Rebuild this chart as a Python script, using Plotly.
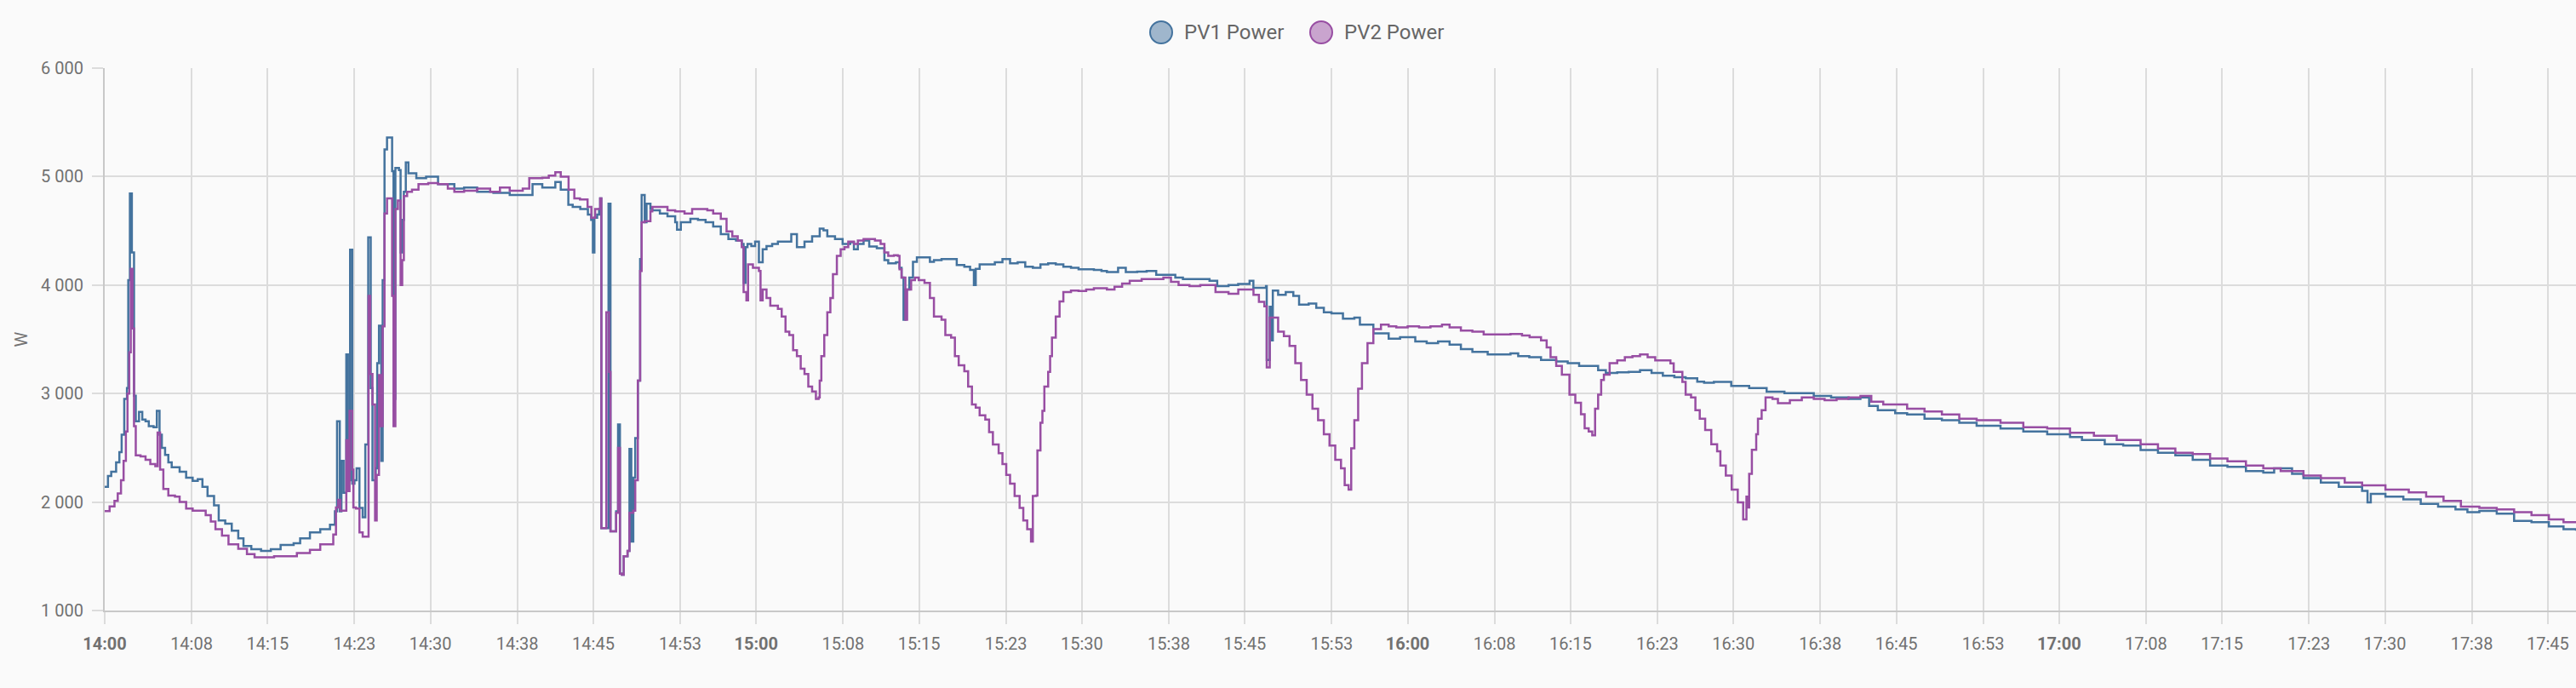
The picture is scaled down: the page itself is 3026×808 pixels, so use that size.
import plotly.graph_objects as go
import pandas as pd

# ---------------- data (minutes after 14:00, watts) ----------------
pv1_samples = [
    (0.0, 2140), (0.3, 2240), (0.6, 2280), (1.05, 2365), (1.35, 2460), (1.56, 2620), (1.8, 2950),
    (2.05, 3050), (2.17, 4046), (2.32, 4845), (2.5, 4300), (2.7, 2980), (2.86, 2745), (3.16, 2830),
    (3.46, 2760), (3.76, 2745), (4.06, 2700), (4.5, 2690), (4.8, 2840), (5.05, 2620), (5.26, 2500),
    (5.56, 2435), (5.86, 2365), (6.17, 2320), (6.9, 2280), (7.5, 2225), (8.1, 2195), (8.57, 2210),
    (9.0, 2140), (9.47, 2055), (10.07, 1970), (10.5, 1830), (11.1, 1800), (11.7, 1735), (12.3, 1665),
    (12.78, 1595), (13.5, 1565), (14.4, 1550), (15.3, 1565), (16.2, 1605), (17.4, 1620), (18.0, 1665),
    (18.9, 1720), (19.85, 1750), (20.75, 1790), (21.2, 1915), (21.4, 2745), (21.65, 1915), (21.8, 2380),
    (22.0, 2085), (22.25, 3360), (22.4, 2200), (22.6, 4327), (22.8, 2170), (23.0, 2200), (23.2, 2310),
    (23.46, 1945), (23.76, 1860), (24.0, 2530), (24.27, 4440), (24.5, 3050), (24.66, 2200), (24.96, 2310),
    (25.1, 3280), (25.26, 3625), (25.47, 2380), (25.6, 4045), (25.77, 5250), (26.0, 5360), (26.3, 5360),
    (26.47, 5050), (26.6, 2950), (26.77, 5080), (27.1, 5060), (27.25, 4300), (27.4, 4600), (27.55, 4860),
    (27.73, 5130), (27.97, 5030), (28.7, 4985), (29.6, 5000), (30.7, 4930), (32.2, 4890), (33.1, 4900),
    (34.3, 4860), (35.8, 4850), (37.3, 4830), (38.5, 4830), (39.4, 4930), (40.3, 4900), (41.5, 4950),
    (42.0, 4880), (42.7, 4740), (43.1, 4720), (43.8, 4700), (44.5, 4650), (44.8, 4600), (44.96, 4300),
    (45.1, 4620), (45.35, 4650), (45.53, 4700), (45.63, 4800), (45.74, 1760), (46.23, 1760), (46.4, 4750),
    (46.58, 1730), (46.93, 1730), (47.1, 1915), (47.28, 2715), (47.45, 1340), (47.63, 1330), (47.8, 1500),
    (48.15, 1550), (48.33, 2490), (48.5, 1635), (48.68, 2225), (48.86, 2590), (49.1, 3120), (49.31, 4240),
    (49.45, 4830), (49.73, 4580), (49.9, 4750), (50.26, 4700), (50.43, 4690), (51.13, 4660), (51.83, 4635),
    (52.54, 4580), (52.71, 4510), (53.06, 4580), (53.94, 4610), (54.64, 4600), (55.34, 4580), (56.04, 4540),
    (56.74, 4470), (57.44, 4425), (58.14, 4410), (58.67, 4380), (58.84, 4020), (59.02, 4350), (59.2, 4380),
    (59.55, 4360), (59.9, 4400), (60.25, 4210), (60.6, 4330), (60.95, 4360), (61.47, 4380), (62.0, 4400),
    (62.7, 4400), (63.23, 4470), (63.75, 4350), (64.45, 4400), (65.15, 4450), (65.85, 4520), (66.2, 4505),
    (66.55, 4450), (67.26, 4425), (67.96, 4380), (68.66, 4395), (69.0, 4330), (69.36, 4380), (69.89, 4410),
    (70.41, 4355), (71.11, 4340), (71.81, 4230), (72.16, 4200), (72.87, 4210), (73.2, 4160), (73.39, 4070),
    (73.57, 3680), (73.74, 3960), (74.1, 4070), (74.44, 4215), (74.8, 4255), (75.5, 4255), (76.0, 4215),
    (76.37, 4230), (77.07, 4240), (77.77, 4240), (78.47, 4185), (79.17, 4170), (79.7, 4140), (80.05, 4000),
    (80.22, 4150), (80.58, 4190), (81.28, 4190), (81.98, 4210), (82.68, 4240), (83.38, 4200), (84.08, 4210),
    (84.78, 4170), (85.48, 4160), (86.18, 4190), (86.89, 4200), (87.59, 4190), (88.29, 4170), (88.99, 4160),
    (89.69, 4145), (90.39, 4145), (91.1, 4140), (91.8, 4130), (92.3, 4120), (93.33, 4160), (94.04, 4120),
    (95.09, 4125), (95.96, 4130), (96.84, 4095), (97.9, 4095), (98.6, 4070), (99.3, 4055), (100.35, 4055),
    (101.05, 4055), (101.75, 4040), (102.46, 3990), (103.5, 4000), (104.39, 4010), (105.44, 4040),
    (105.79, 3975), (106.3, 3975), (106.95, 3990), (107.02, 3310), (107.3, 3800), (107.44, 3490),
    (107.58, 3950), (108.07, 3910), (108.77, 3935), (109.47, 3900), (110.0, 3820), (110.88, 3830),
    (111.58, 3790), (112.28, 3750), (112.98, 3740), (114.04, 3690), (115.09, 3700), (115.6, 3635),
    (116.14, 3635), (116.84, 3555), (117.54, 3555), (118.25, 3505), (119.3, 3520), (120.0, 3520),
    (120.7, 3480), (121.75, 3465), (122.8, 3480), (123.86, 3450), (124.9, 3410), (125.96, 3385),
    (127.37, 3360), (128.42, 3360), (129.47, 3370), (130.18, 3345), (131.2, 3335), (132.28, 3310),
    (133.68, 3295), (134.74, 3280), (135.79, 3255), (136.84, 3255), (137.54, 3215), (138.25, 3190),
    (139.3, 3195), (140.35, 3200), (141.4, 3215), (142.46, 3190), (143.5, 3165), (144.56, 3150),
    (145.6, 3140), (146.67, 3110), (147.3, 3100), (148.2, 3108), (149.8, 3070), (151.45, 3050),
    (153.06, 3017), (154.7, 3004), (156.8, 3004), (157.4, 2978), (159.0, 2965), (160.6, 2950),
    (161.7, 2965), (162.5, 2886), (163.3, 2847), (164.9, 2820), (166.0, 2808), (167.6, 2768),
    (169.2, 2755), (170.8, 2730), (172.4, 2703), (174.6, 2677), (176.7, 2650), (178.9, 2625),
    (181.0, 2600), (182.1, 2572), (184.2, 2533), (185.9, 2520), (187.5, 2480), (189.1, 2455),
    (190.7, 2430), (192.3, 2390), (193.9, 2337), (195.5, 2324), (197.2, 2285), (198.8, 2272),
    (199.8, 2311), (201.45, 2259), (202.5, 2220), (204.1, 2180), (205.75, 2141), (207.9, 2102),
    (208.4, 1997), (208.7, 2076), (210.05, 2050), (211.7, 2024), (213.3, 1984), (214.9, 1958),
    (216.5, 1932), (217.6, 1906), (218.7, 1919), (220.3, 1893), (221.9, 1827), (223.5, 1814),
    (225.1, 1775), (226.45, 1749), (227.6, 1736),
]

pv2_samples = [
    (0.0, 1916), (0.45, 1960), (0.9, 2010), (1.2, 2080), (1.5, 2200), (1.74, 2380), (1.95, 2650),
    (2.1, 3000), (2.26, 3380), (2.4, 4150), (2.56, 3600), (2.7, 2700), (2.86, 2430), (3.3, 2420),
    (3.76, 2390), (4.2, 2350), (4.66, 2330), (4.87, 2640), (5.1, 2300), (5.4, 2120), (5.86, 2060),
    (6.47, 2050), (6.9, 2000), (7.5, 1940), (8.1, 1920), (8.87, 1920), (9.3, 1880), (9.77, 1820),
    (10.2, 1750), (10.8, 1690), (11.4, 1610), (12.3, 1570), (13.1, 1520), (13.8, 1490), (14.7, 1490),
    (15.6, 1500), (16.8, 1500), (17.7, 1530), (18.9, 1560), (19.85, 1610), (20.75, 1610), (21.05, 1700),
    (21.3, 1950), (21.5, 2020), (21.7, 1920), (21.95, 1920), (22.25, 2570), (22.4, 2100), (22.55, 2840),
    (22.8, 2300), (22.9, 1950), (23.15, 1940), (23.46, 1720), (23.76, 1680), (24.06, 1680), (24.3, 3900),
    (24.45, 3180), (24.66, 2900), (24.9, 1830), (25.05, 2250), (25.26, 3170), (25.45, 2700), (25.6, 3620),
    (25.77, 4660), (26.0, 4800), (26.3, 4800), (26.47, 3900), (26.6, 2700), (26.77, 4700), (27.0, 4780),
    (27.25, 4000), (27.4, 4230), (27.55, 4820), (27.85, 4860), (28.3, 4880), (28.9, 4930), (29.8, 4940),
    (30.7, 4930), (31.6, 4890), (32.2, 4860), (33.1, 4870), (34.3, 4890), (35.5, 4860), (36.4, 4900),
    (37.3, 4870), (38.5, 4890), (39.1, 4985), (40.3, 4990), (40.9, 5010), (41.5, 5040), (42.0, 5000),
    (42.72, 4880), (43.25, 4800), (43.77, 4790), (44.47, 4720), (44.82, 4620), (45.17, 4700),
    (45.63, 4800), (45.74, 1760), (46.2, 3750), (46.45, 3200), (46.58, 1730), (46.93, 1730), (47.1, 1900),
    (47.28, 2500), (47.45, 1340), (47.63, 1330), (47.8, 1500), (48.15, 1550), (48.33, 1900), (48.68, 1920),
    (48.86, 2200), (49.1, 3120), (49.31, 4130), (49.45, 4580), (49.73, 4590), (50.26, 4680), (50.43, 4720),
    (51.13, 4720), (51.83, 4690), (52.54, 4680), (53.4, 4660), (54.1, 4700), (55.0, 4700), (55.5, 4690),
    (56.04, 4660), (56.74, 4610), (57.27, 4495), (57.8, 4450), (58.3, 4410), (58.67, 4350), (58.84, 3935),
    (59.1, 3860), (59.25, 4190), (59.7, 4160), (60.25, 4130), (60.4, 3860), (60.6, 3960), (60.95, 3880),
    (61.3, 3810), (62.0, 3780), (62.35, 3710), (62.7, 3570), (63.05, 3540), (63.4, 3400), (63.75, 3345),
    (64.1, 3230), (64.45, 3180), (64.8, 3065), (65.15, 3020), (65.5, 2950), (65.75, 2965), (65.85, 3120),
    (66.0, 3345), (66.27, 3540), (66.55, 3750), (66.83, 3880), (67.07, 4100), (67.43, 4270), (67.78, 4330),
    (68.13, 4350), (68.48, 4400), (69.0, 4380), (69.36, 4410), (69.89, 4425), (70.41, 4425), (70.94, 4410),
    (71.46, 4380), (71.81, 4300), (72.16, 4270), (72.69, 4275), (73.04, 4270), (73.2, 4145), (73.39, 4070),
    (73.74, 3680), (73.9, 3960), (74.27, 4045), (74.62, 4070), (74.97, 4045), (75.5, 4020), (76.0, 3880),
    (76.37, 3710), (77.07, 3680), (77.42, 3540), (77.95, 3515), (78.3, 3345), (78.65, 3260), (79.17, 3205),
    (79.52, 3065), (79.87, 2900), (80.22, 2870), (80.58, 2800), (81.1, 2760), (81.45, 2645), (81.8, 2530),
    (82.33, 2450), (82.68, 2350), (83.03, 2250), (83.38, 2170), (83.8, 2055), (84.26, 1945), (84.6, 1830),
    (84.96, 1750), (85.31, 1635), (85.48, 2055), (85.77, 2060), (85.9, 2475), (86.18, 2730), (86.36, 2840),
    (86.54, 3065), (86.89, 3200), (87.07, 3345), (87.24, 3515), (87.59, 3710), (87.94, 3850), (88.29, 3935),
    (88.99, 3950), (89.69, 3945), (90.39, 3960), (91.1, 3970), (92.3, 3960), (93.0, 3985), (93.7, 4015),
    (94.4, 4040), (95.5, 4055), (96.5, 4055), (97.5, 4070), (98.2, 4030), (98.9, 4000), (99.9, 3990),
    (100.9, 4000), (101.6, 4000), (102.3, 3935), (103.5, 3920), (104.4, 3960), (105.1, 3960), (105.8, 3910),
    (106.3, 3845), (106.8, 3805), (107.02, 3240), (107.3, 3700), (107.72, 3700), (108.07, 3570),
    (108.6, 3530), (109.12, 3440), (109.65, 3280), (110.18, 3125), (110.7, 2990), (111.23, 2860),
    (111.75, 2755), (112.28, 2625), (112.8, 2520), (113.33, 2390), (113.86, 2310), (114.2, 2155),
    (114.56, 2115), (114.8, 2495), (115.09, 2755), (115.44, 3045), (115.79, 3280), (116.3, 3465),
    (116.84, 3595), (117.54, 3635), (118.25, 3620), (118.95, 3610), (120.0, 3620), (121.05, 3610),
    (122.1, 3620), (123.16, 3635), (123.86, 3610), (124.9, 3580), (125.96, 3570), (127.0, 3545),
    (128.07, 3545), (128.77, 3545), (129.47, 3550), (130.53, 3535), (131.23, 3520), (132.28, 3490),
    (132.8, 3425), (133.16, 3335), (133.68, 3255), (134.2, 3175), (134.9, 2990), (135.44, 2915),
    (135.96, 2810), (136.3, 2680), (136.67, 2650), (137.0, 2615), (137.26, 2860), (137.54, 2990),
    (137.82, 3125), (138.07, 3175), (138.6, 3280), (139.3, 3305), (140.0, 3335), (140.7, 3345),
    (141.4, 3360), (142.1, 3335), (142.8, 3305), (143.68, 3305), (144.2, 3278), (144.5, 3200),
    (145.3, 3108), (145.6, 2990), (146.1, 2965), (146.5, 2847), (146.9, 2768), (147.4, 2664),
    (147.96, 2533), (148.5, 2468), (148.8, 2337), (149.3, 2245), (149.84, 2115), (150.4, 1997),
    (150.9, 1840), (151.2, 2050), (151.34, 1950), (151.45, 2259), (151.7, 2481), (152.1, 2625),
    (152.26, 2768), (152.6, 2847), (152.96, 2965), (153.6, 2950), (154.1, 2912), (155.2, 2938),
    (156.3, 2965), (157.4, 2950), (158.4, 2938), (159.5, 2950), (160.6, 2965), (161.7, 2978),
    (162.2, 2978), (162.7, 2925), (163.8, 2900), (164.9, 2900), (166.0, 2860), (167.6, 2834),
    (169.2, 2808), (170.8, 2768), (172.4, 2755), (174.6, 2730), (176.7, 2690), (178.9, 2677),
    (181.0, 2638), (183.2, 2612), (185.3, 2572), (187.5, 2533), (189.1, 2494), (190.7, 2455),
    (192.3, 2442), (193.9, 2402), (195.5, 2376), (197.2, 2337), (198.8, 2311), (200.4, 2285),
    (202.5, 2245), (204.1, 2220), (206.3, 2180), (207.9, 2154), (210.05, 2115), (212.2, 2089),
    (213.8, 2050), (215.4, 2010), (217.0, 1958), (218.7, 1945), (220.3, 1932), (221.9, 1906),
    (223.5, 1880), (225.1, 1840), (226.45, 1814), (227.6, 1808),
]

series_names = ["PV1 Power", "PV2 Power"]
series_colors = ["#44739e", "#984ea3"]
legend_fills = ["#9fb6cc", "#c9a4ce"]

x_tick_labels = [
    "14:00", "14:08", "14:15", "14:23", "14:30", "14:38", "14:45", "14:53",
    "15:00", "15:08", "15:15", "15:23", "15:30", "15:38", "15:45", "15:53",
    "16:00", "16:08", "16:15", "16:23", "16:30", "16:38", "16:45", "16:53",
    "17:00", "17:08", "17:15", "17:23", "17:30", "17:38", "17:45",
]
y_tick_values = [1000, 2000, 3000, 4000, 5000, 6000]
y_tick_labels = ["1 000", "2 000", "3 000", "4 000", "5 000", "6 000"]
y_unit = "W"

day = "2024-05-20"
x_start = "14:00:00"
x_end = "17:47:36"

# ---------------- figure ----------------
base = pd.Timestamp(f"{day} {x_start}")


def to_times(samples):
    return [base + pd.Timedelta(minutes=m) for m, _ in samples]


def to_values(samples):
    return [v for _, v in samples]


fig = go.Figure()
for samples, name, color in zip([pv1_samples, pv2_samples], series_names, series_colors):
    fig.add_trace(go.Scatter(
        x=to_times(samples), y=to_values(samples), name=name, mode="lines",
        line=dict(color=color, width=2.5, shape="hv"),
    ))

tickvals = [pd.Timestamp(f"{day} {t}:00") for t in x_tick_labels]
ticktext = [f"<b>{t}</b>" if t.endswith(":00") else t for t in x_tick_labels]

GRID = "#dcdcdc"
AXIS = "#c8c8c8"
TXT = "#717171"

fig.update_layout(
    width=3026, height=808,
    margin=dict(l=123, r=0, t=80, b=91),
    paper_bgcolor="#fafafa", plot_bgcolor="#fafafa",
    font=dict(family="Roboto", size=20, color=TXT),
    showlegend=False,
    xaxis=dict(
        type="date",
        range=[base, pd.Timestamp(f"{day} {x_end}")],
        tickvals=tickvals, ticktext=ticktext,
        showgrid=True, gridcolor=GRID, gridwidth=1.5,
        ticks="outside", ticklen=14, tickcolor=GRID, tickwidth=1.5,
        showline=True, linecolor=AXIS, linewidth=2,
        zeroline=False, tickfont=dict(size=20, color=TXT),
        ticklabelstandoff=6,
    ),
    yaxis=dict(
        range=[1000, 6000],
        tickvals=y_tick_values, ticktext=y_tick_labels,
        showgrid=True, gridcolor=GRID, gridwidth=1.5,
        ticks="outside", ticklen=13, tickcolor=GRID, tickwidth=1.5,
        showline=True, linecolor=AXIS, linewidth=2,
        zeroline=False, tickfont=dict(size=20, color=TXT),
        ticklabelstandoff=6,
    ),
)

# y-axis unit title
fig.add_annotation(
    text=y_unit, xref="paper", yref="paper", x=-0.0338, y=0.5,
    showarrow=False, textangle=-90, font=dict(size=20, color=TXT),
    xanchor="center", yanchor="middle",
)

# legend drawn at the top centre (round symbols)
plot_w = 3026 - 123
plot_h = 808 - 80 - 91
legend_y = (717 - 38) / plot_h
legend_cx = [(1364 - 123) / plot_w, (1552 - 123) / plot_w]
legend_tx = [(1389 - 123) / plot_w, (1577 - 123) / plot_w]
for cx, tx, name, color, fillc in zip(legend_cx, legend_tx, series_names, series_colors, legend_fills):
    fig.add_shape(
        type="circle", xref="paper", yref="paper",
        xsizemode="pixel", ysizemode="pixel", xanchor=cx, yanchor=legend_y,
        x0=-13, x1=13, y0=-13, y1=13,
        fillcolor=fillc, line=dict(color=color, width=2),
    )
    fig.add_annotation(
        text=name, xref="paper", yref="paper", x=tx, y=legend_y,
        showarrow=False, xanchor="left", yanchor="middle",
        font=dict(size=24, color="#666666"),
    )

fig.write_html("out.html")
